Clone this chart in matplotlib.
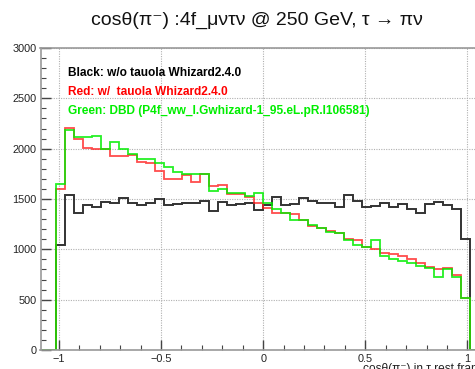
import numpy as np
import matplotlib
matplotlib.use("Agg")
import matplotlib.pyplot as plt

# histogram binning: 50 bins over [-1.1, 1.1]
bin_lo, bin_hi, n_bins = -1.1, 1.1, 50

black_wo_tauola = [0, 0, 1040, 1541, 1359, 1441, 1425, 1475, 1465, 1508, 1458, 1441,
                   1458, 1498, 1441, 1450, 1458, 1465, 1485, 1380, 1470, 1440,
                   1450, 1460, 1390, 1445, 1520, 1445, 1455, 1508, 1485, 1458,
                   1458, 1425, 1540, 1485, 1418, 1432, 1458, 1425, 1451, 1398,
                   1359, 1451, 1467, 1441, 1398, 1100, 0, 0]

red_w_tauola = [0, 0, 1600, 2204, 2094, 2004, 2000, 2000, 1930, 1930, 1938, 1870,
                1862, 1775, 1698, 1703, 1740, 1672, 1753, 1627, 1635, 1552,
                1545, 1524, 1460, 1410, 1360, 1360, 1355, 1290, 1236, 1210,
                1185, 1165, 1105, 1090, 1020, 1000, 960, 950, 930, 900,
                860, 828, 800, 810, 745, 514, 0, 0]

green_dbd = [0, 0, 1650, 2190, 2114, 2114, 2127, 1995, 2065, 1995, 1945, 1900,
             1900, 1862, 1820, 1770, 1745, 1745, 1745, 1580, 1600, 1560,
             1560, 1530, 1555, 1460, 1400, 1362, 1292, 1290, 1240, 1210,
             1177, 1165, 1097, 1045, 1027, 1093, 934, 901, 888, 862,
             835, 812, 722, 802, 722, 514, 0, 0]

legend_lines = ["Black: w/o tauola Whizard2.4.0",
                "Red: w/  tauola Whizard2.4.0",
                "Green: DBD (P4f_ww_l.Gwhizard-1_95.eL.pR.I106581)"]
legend_colors = ["black", "#ff0000", "#00ee00"]

plt.rcParams['font.family'] = ['Liberation Sans', 'DejaVu Sans']

W, H = 475, 369
fig = plt.figure(figsize=(W / 100, H / 100), dpi=100)

# axes placed in pixel units; right part runs off the figure like the original
x_left, px_per_unit = 40.5, 204.3
xmin, xmax = -1.09, 1.1
x_right = x_left + (xmax - xmin) * px_per_unit
y_bottom, y_top = 350, 48
ax = fig.add_axes([x_left / W, (H - y_bottom) / H,
                   (x_right - x_left) / W, (y_bottom - y_top) / H])

edges = np.linspace(bin_lo, bin_hi, n_bins + 1)
ax.stairs(black_wo_tauola, edges, color="#333333", lw=1.4, baseline=0)
ax.stairs(red_w_tauola, edges, color="#ff2020", lw=1.3, alpha=0.8, baseline=0)
ax.stairs(green_dbd, edges, color="#00ee00", lw=1.3, alpha=0.85, baseline=0)

ax.set_xlim(xmin, xmax)
ax.set_ylim(0, 3000)

ax.set_xticks([-1, -0.5, 0, 0.5, 1])
ax.set_xticklabels(["\u22121", "\u22120.5", "0", "0.5", "1"])
ax.set_xticks(np.arange(-1, 1.01, 0.1), minor=True)
ax.set_yticks(np.arange(0, 3001, 500))
ax.set_yticks(np.arange(0, 3001, 100), minor=True)

ax.grid(True, which="major", ls=(0, (1, 1.2)), color="#b0b0b0", lw=0.8)
ax.set_axisbelow(True)

ax.tick_params(which="both", direction="in", top=False, right=False,
               colors="#444444", labelcolor="#222222", labelsize=7.8)
ax.tick_params(which="major", length=7, width=1.0, pad=3)
ax.tick_params(which="minor", length=3.5, width=0.8)

for side in ["left", "bottom", "top"]:
    ax.spines[side].set_color("#999999")
    ax.spines[side].set_linewidth(1.2)
ax.spines["right"].set_visible(False)

for i, (txt, col) in enumerate(zip(legend_lines, legend_colors)):
    fig.text(68 / W, 1 - (73 + 19 * i) / H, txt, color=col, fontsize=8.6,
             fontweight="bold", ha="left", va="center")

fig.text(257 / W, 1 - 20 / H, "cos\u03b8(\u03c0\u207b) :4f_\u03bc\u03bd\u03c4\u03bd @ 250 GeV, \u03c4 \u2192 \u03c0\u03bd",
         ha="center", va="center", fontsize=14, color="#111111")

# axis title sits at the bottom edge and is partly cut off, as in the original
fig.text(x_right / W, 1 - 363 / H, "cos\u03b8(\u03c0\u207b) in \u03c4 rest frame",
         ha="right", va="top", fontsize=8.6, color="#222222")

fig.savefig("out.png", dpi=100)
